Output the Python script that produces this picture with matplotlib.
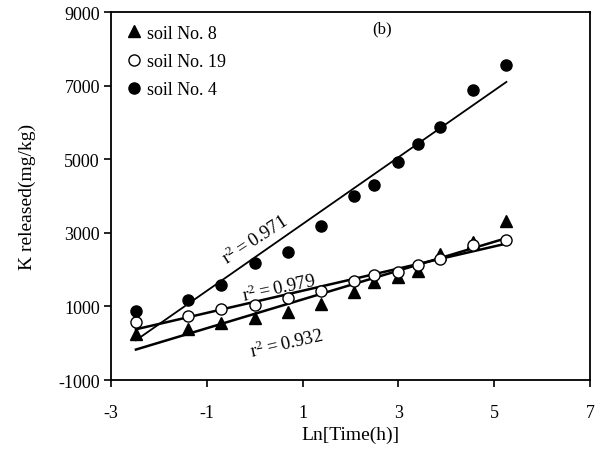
import numpy as np
import matplotlib
matplotlib.use("Agg")
import matplotlib.pyplot as plt

plt.rcParams['font.family'] = ['Liberation Serif', 'DejaVu Serif']
plt.rcParams['mathtext.fontset'] = 'custom'
plt.rcParams['mathtext.rm'] = 'Liberation Serif'

ln_time = [-2.48, -1.386, -0.693, 0.0, 0.693, 1.386, 2.079, 2.485, 2.996, 3.401, 3.871, 4.564, 5.257]
soil8 = [250, 386, 549, 676, 839, 1065, 1382, 1654, 1790, 1971, 2424, 2741, 3330]
soil19 = [585, 730, 929, 1038, 1219, 1427, 1681, 1853, 1944, 2125, 2288, 2668, 2813]
soil4 = [867, 1174, 1582, 2171, 2470, 3193, 3992, 4307, 4916, 5413, 5867, 6889, 7568]

labels = ["soil No. 8", "soil No. 19", "soil No. 4"]
r2_labels = ["0.932", "0.979", "0.971"]
xticks = [-3, -1, 1, 3, 5, 7]
yticks = [-1000, 1000, 3000, 5000, 7000, 9000]

fig = plt.figure(figsize=(6.05, 4.6), dpi=100)
ax = fig.add_axes([0.1835, 0.1717, 0.7915, 0.80])

x = np.array(ln_time)
for y, lw in [(soil8, 1.8), (soil19, 1.8), (soil4, 1.3)]:
    k, b = np.polyfit(x, y, 1)
    xs = np.array([x.min(), x.max()])
    ax.plot(xs, k * xs + b, color='black', lw=lw, zorder=2)

ax.plot(x, soil8, linestyle='none', marker='^', ms=8.5, mfc='black', mec='black', label=labels[0], zorder=3)
ax.plot(x, soil19, linestyle='none', marker='o', ms=8, mfc='white', mec='black', mew=1.0, label=labels[1], zorder=3)
ax.plot(x, soil4, linestyle='none', marker='o', ms=8, mfc='black', mec='black', label=labels[2], zorder=3)

ax.set_xlim(-3, 7)
ax.set_ylim(-1000, 9000)
ax.set_xticks(xticks)
ax.set_yticks(yticks)
ax.set_xticklabels([str(t) for t in xticks])
ax.set_yticklabels([str(t) for t in yticks])
ax.tick_params(direction='out', length=5, width=1.2, labelsize=13, pad=12)
ax.tick_params(axis='y', pad=3)
for s in ax.spines.values():
    s.set_linewidth(1.3)

ax.set_xlabel("Ln[Time(h)]", fontsize=14, labelpad=4)
ax.set_ylabel("K released(mg/kg)", fontsize=14, labelpad=16)

ax.text(2.65, 8560, "(b)", fontsize=12, ha='center', va='center')
ax.text(0.0, 2830, r"$\mathregular{r^2 = }$" + r2_labels[2], fontsize=13.5, rotation=33, ha='center', va='center')
ax.text(0.5, 1500, r"$\mathregular{r^2 = }$" + r2_labels[1], fontsize=13.5, rotation=12, ha='center', va='center')
ax.text(0.67, 0, r"$\mathregular{r^2 = }$" + r2_labels[0], fontsize=13.5, rotation=13, ha='center', va='center')

leg = ax.legend(loc='upper left', bbox_to_anchor=(0.0, 1.0), frameon=False, fontsize=13,
                handletextpad=0.1, handlelength=1.2, labelspacing=0.62, borderaxespad=0.3)

fig.savefig("out.png", dpi=100)
